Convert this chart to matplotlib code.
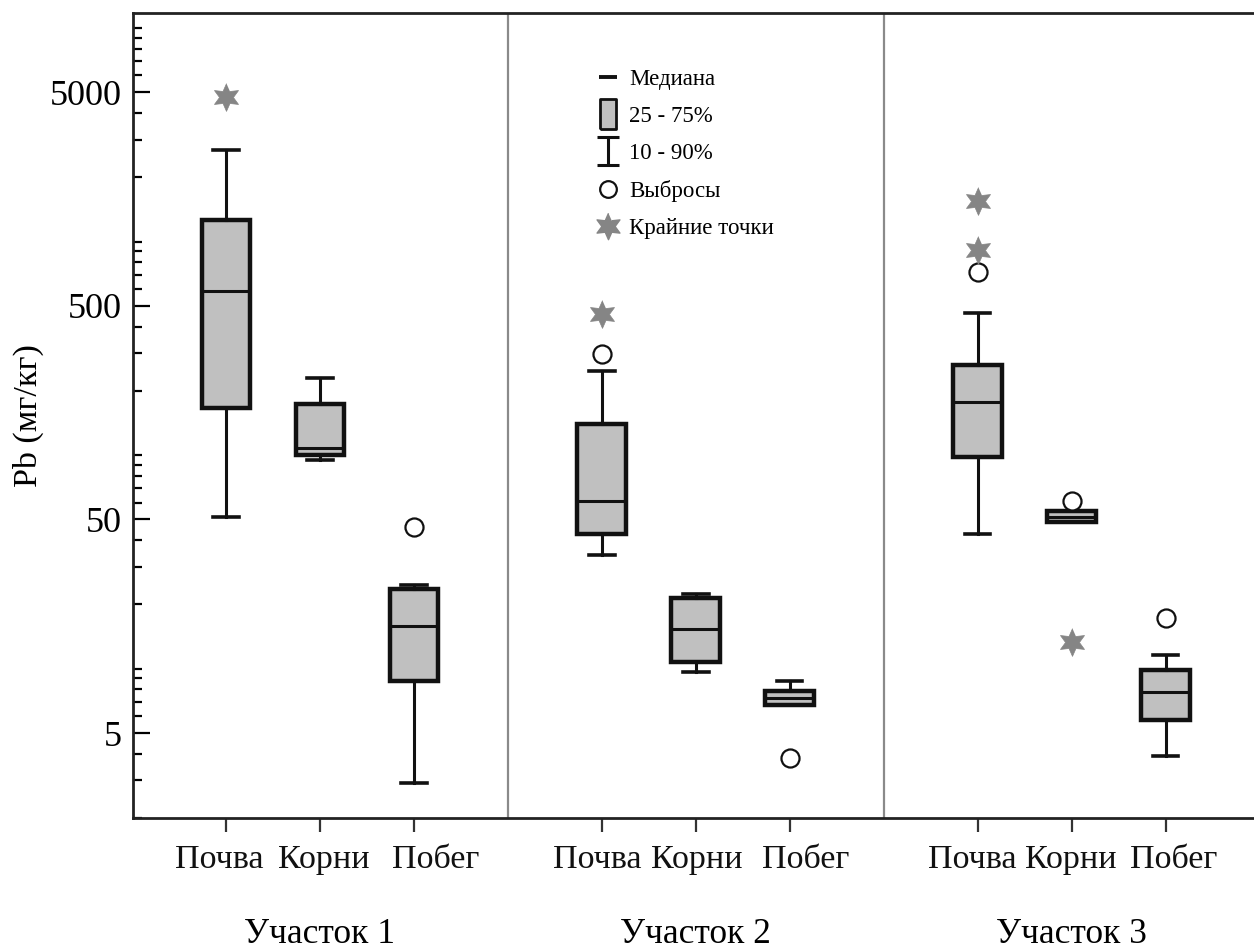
import numpy as np
import matplotlib
matplotlib.use("Agg")
import matplotlib.pyplot as plt
import matplotlib.transforms as mtransforms
from matplotlib.path import Path
from matplotlib.lines import Line2D
from matplotlib.ticker import FixedLocator, LogLocator, NullFormatter, FuncFormatter

plt.rcParams['font.family'] = ['Liberation Serif', 'DejaVu Serif']

# ---- data ----
sites = ['Участок 1', 'Участок 2', 'Участок 3']
parts = ['Почва', 'Корни', 'Побег']
positions = [1, 2, 3, 5, 6, 7, 9, 10, 11]

p10 = [51.6, 94.6, 2.91, 34.1, 9.66, 6.75, 42.7, 48.6, 3.89]
q25 = [166.5, 99.8, 8.74, 42.7, 10.7, 6.79, 97.7, 48.6, 5.78]
med = [584, 108, 15.85, 61.2, 15.3, 7.30, 177.6, 51.6, 7.79]
q75 = [1262, 172.6, 23.5, 140, 21.35, 7.85, 264, 54.9, 9.85]
p90 = [2690, 230, 24.7, 248, 22.4, 8.77, 465, 54.9, 11.6]

# outliers (circles) and extreme points (stars): (position, value)
outlier_x = [3, 5, 7, 9, 10, 11]
outlier_y = [45.9, 296, 3.83, 722, 61.2, 17.2]
extreme_x = [1, 5, 9, 9, 10]
extreme_y = [4752, 457, 1545, 912, 13.4]

box_fill = '#c0c0c0'
star_col = '#858585'

# six-pointed star marker
ang = np.pi / 2 + np.arange(12) * np.pi / 6
rad = np.where(np.arange(12) % 2 == 0, 1.0, 0.5)
star = list(zip(rad * np.cos(ang), rad * np.sin(ang)))

fig = plt.figure(figsize=(12.54, 9.49), dpi=100)
ax = fig.add_axes([133 / 1254, 131 / 949, 1 - 133 / 1254, (818 - 13) / 949])

stats = []
for i in range(len(positions)):
    stats.append(dict(whislo=p10[i], q1=q25[i], med=med[i], q3=q75[i], whishi=p90[i], fliers=[]))

ax.bxp(stats, positions=positions, widths=0.52, capwidths=0.27, showfliers=False,
       patch_artist=True,
       boxprops=dict(facecolor=box_fill, edgecolor='#111111', linewidth=3.2),
       medianprops=dict(color='#111111', linewidth=2.2),
       whiskerprops=dict(color='#111111', linewidth=2.2),
       capprops=dict(color='#111111', linewidth=2.6))

ax.plot(outlier_x, outlier_y, linestyle='none', marker='o', markersize=13,
        markerfacecolor='white', markeredgecolor='#111111', markeredgewidth=1.6, zorder=4)
ax.plot(extreme_x, extreme_y, linestyle='none', marker=star, markersize=20,
        markerfacecolor=star_col, markeredgecolor=star_col, markeredgewidth=0.5, zorder=4)

for xd in [4, 8]:
    ax.axvline(xd, color='#8a8a8a', linewidth=1.6, zorder=1)

ax.set_yscale('log')
ax.set_ylim(2.0, 11750)
ax.set_xlim(0.01, 11.94)

ax.yaxis.set_major_locator(FixedLocator([5, 50, 500, 5000]))
ax.yaxis.set_major_formatter(FuncFormatter(lambda v, p: '%g' % v))
ax.yaxis.set_minor_locator(LogLocator(base=10, subs=(1, 2, 3, 4, 6, 7, 8, 9), numticks=20))
ax.yaxis.set_minor_formatter(NullFormatter())
ax.tick_params(axis='y', which='major', direction='in', length=12, width=1.6, labelsize=26, pad=8)
ax.tick_params(axis='y', which='minor', direction='in', length=6.5, width=1.6)

ax.set_xticks(positions)
ax.set_xticklabels(parts * 3)
ax.tick_params(axis='x', which='major', direction='out', length=10, width=1.6, labelsize=24.5, pad=9,
               colors='#333333', labelcolor='#111111')

# the words under each group sit a little spread out, as in the original
shifts = [-7, 4, 22, -5, 1, 16, -5, -1, 8]
for lab, dx in zip(ax.get_xticklabels(), shifts):
    lab.set_transform(lab.get_transform() + mtransforms.ScaledTranslation(dx / 100, 0, fig.dpi_scale_trans))

for s, xc in zip(sites, [2, 6, 10]):
    ax.text(xc, -0.145, s, transform=ax.get_xaxis_transform(), ha='center', va='center', fontsize=25.5)

ax.set_ylabel('Pb (мг/кг)', fontsize=24.5, labelpad=4)

ax.spines['right'].set_visible(False)
for sp in ['left', 'top', 'bottom']:
    ax.spines[sp].set_linewidth(2.0)
    ax.spines[sp].set_color('#222222')

# legend
rect = [(-0.28, -0.5), (0.28, -0.5), (0.28, 0.5), (-0.28, 0.5), (-0.28, -0.5)]
ibeam = Path([(-0.4, 0.5), (0.4, 0.5), (0, 0.5), (0, -0.5), (-0.4, -0.5), (0.4, -0.5)],
             [Path.MOVETO, Path.LINETO, Path.MOVETO, Path.LINETO, Path.MOVETO, Path.LINETO])
handles = [
    Line2D([], [], linestyle='none', marker='_', markersize=13, markeredgewidth=2.8, color='#111111'),
    Line2D([], [], linestyle='none', marker=rect, markersize=21, markerfacecolor=box_fill,
           markeredgecolor='#111111', markeredgewidth=2.0),
    Line2D([], [], linestyle='none', marker=ibeam, markersize=20, markeredgewidth=2.2, color='#111111'),
    Line2D([], [], linestyle='none', marker='o', markersize=12, markerfacecolor='white',
           markeredgecolor='#111111', markeredgewidth=1.6),
    Line2D([], [], linestyle='none', marker=star, markersize=19, markerfacecolor=star_col,
           markeredgecolor=star_col),
]
labels = ['Медиана', '25 - 75%', '10 - 90%', 'Выбросы', 'Крайние точки']
ax.legend(handles, labels, loc='upper left', bbox_to_anchor=(0.403, 0.945), frameon=False,
          fontsize=16.5, handlelength=1.0, handletextpad=0.45, labelspacing=0.7, borderpad=0)

fig.savefig('out.png', dpi=100, facecolor='white')
